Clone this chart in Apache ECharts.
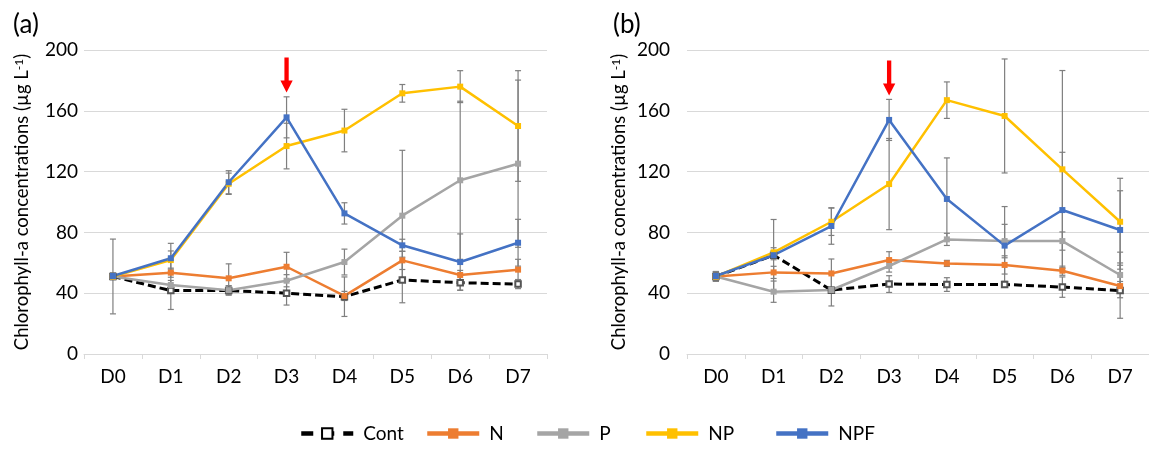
<!DOCTYPE html>
<html>
<head>
<meta charset="utf-8">
<script src="https://cdn.jsdelivr.net/npm/echarts@6/dist/echarts.min.js"></script>
<style>
  html, body { margin: 0; padding: 0; background: #fff; }
  #chart { width: 1149px; height: 449px; }
</style>
</head>
<body>
<div id="chart"></div>
<script>
// Sampling days
const days = ['D0', 'D1', 'D2', 'D3', 'D4', 'D5', 'D6', 'D7'];
const yTicks = { min: 0, max: 200, step: 40 };

// Panel (a): chlorophyll-a means (µg L-1)
const contA = [51, 41.7, 41.7, 40, 37.7, 48.7, 46.9, 46];
const nA    = [51, 53.5, 49.8, 57.4, 38.2, 61.6, 52, 55.5];
const pA    = [51, 45.4, 42, 48.2, 60.5, 91, 114.3, 125.2];
const npA   = [51, 61.8, 112, 136.8, 147, 171.5, 175.9, 150];
const npfA  = [51.3, 63, 113, 155.7, 92.5, 71.5, 60.5, 73.2];

// Panel (a): error bar half-widths
const contErrA = [24.6, 12.4, 3, 7.8, 13, 15, 5, 3];
const nErrA    = [2, 3, 9.5, 9.5, 3, 6, 3, 6.8];
const pErrA    = [2, 3, 3, 4, 8.5, 43, 52, 55];
const npErrA   = [2, 6, 7, 15, 14, 5.8, 10.5, 36.4];
const npfErrA  = [2, 9.8, 7.6, 13.5, 7, 4, 18.5, 15.4];

// Panel (b): chlorophyll-a means (µg L-1)
const contB = [51, 65, 42, 46, 45.7, 45.8, 44, 41.7];
const nB    = [51, 53.7, 53, 61.8, 59.6, 58.6, 54.8, 44.7];
const pB    = [51, 41, 42.1, 57.9, 75.4, 74.3, 74.3, 52];
const npB   = [51, 66.9, 87, 111.8, 167, 156.6, 121.5, 87];
const npfB  = [51.3, 65, 84.2, 154, 102, 71.3, 94.7, 81.6];

// Panel (b): error bar half-widths
const contErrB = [3, 23.5, 2, 5.5, 4.5, 2, 6.7, 18.2];
const nErrB    = [3, 4, 9.5, 5.5, 2, 6, 3, 3];
const pErrB    = [3, 7, 10.5, 4, 4, 11, 6, 15];
const npErrB   = [3, 3, 9, 30, 12, 37.5, 65, 28.6];
const npfErrB  = [3, 3, 12, 13.5, 27, 25.7, 38, 25.8];

// Level of the red marker arrow above D3 in each panel
const arrowDay = 'D3';
const arrowLevelA = 183.6;
const arrowLevelB = 181.6;

const FONT = 'Lato, "Open Sans", sans-serif';
const COLORS = { Cont: '#000000', N: '#ED7D31', P: '#A5A5A5', NP: '#FFC000', NPF: '#4472C4' };
const ARROW = 'path://M4,0 L8.3,0 L8.3,23 L12.3,23 L6.15,35 L0,23 L4,23 Z';

function lineSeries(name, data, gi) {
  const isCont = name === 'Cont';
  return {
    type: 'line', name, data,
    xAxisIndex: gi, yAxisIndex: gi,
    symbol: isCont ? 'emptyRect' : 'rect',
    symbolSize: isCont ? 5.5 : 6,
    z: 3,
    lineStyle: {
      color: COLORS[name],
      width: isCont ? 3 : 2.5,
      type: isCont ? [8, 4] : 'solid'
    },
    itemStyle: isCont
      ? { color: '#555555', borderWidth: 1 }
      : { color: COLORS[name], borderWidth: 0 }
  };
}

function errSeries(values, errs, gi) {
  return {
    type: 'custom',
    xAxisIndex: gi, yAxisIndex: gi,
    silent: true, z: 2,
    data: values.map((v, i) => [i, v - errs[i], v + errs[i]]),
    renderItem: (params, api) => {
      const lo = api.coord([api.value(0), api.value(1)]);
      const hi = api.coord([api.value(0), api.value(2)]);
      const cap = 3;
      const st = { stroke: '#7f7f7f', lineWidth: 1.2 };
      return {
        type: 'group',
        children: [
          { type: 'line', shape: { x1: lo[0], y1: lo[1], x2: hi[0], y2: hi[1] }, style: st },
          { type: 'line', shape: { x1: lo[0] - cap, y1: lo[1], x2: lo[0] + cap, y2: lo[1] }, style: st },
          { type: 'line', shape: { x1: hi[0] - cap, y1: hi[1], x2: hi[0] + cap, y2: hi[1] }, style: st }
        ]
      };
    }
  };
}

function arrowMark(level) {
  return {
    symbol: ARROW,
    symbolSize: [12.3, 35],
    silent: true,
    label: { show: false },
    itemStyle: { color: '#FF0000' },
    data: [{ coord: [arrowDay, level] }]
  };
}

function xAxis(gi) {
  return {
    type: 'category', gridIndex: gi, data: days,
    boundaryGap: true,
    axisLine: { lineStyle: { color: '#d9d9d9', width: 1 } },
    axisTick: { show: true, length: 5, lineStyle: { color: '#d9d9d9' } },
    axisLabel: { color: '#000', fontSize: 19, fontFamily: FONT, margin: 13 }
  };
}

function yAxis(gi, labelMargin, nameGap) {
  return {
    type: 'value', gridIndex: gi,
    min: yTicks.min, max: yTicks.max, interval: yTicks.step,
    axisLine: { show: false }, axisTick: { show: false },
    splitLine: { lineStyle: { color: '#d9d9d9', width: 1 } },
    axisLabel: { color: '#000', fontSize: 19, fontFamily: FONT, margin: labelMargin },
    name: 'Chlorophyll-a concentrations (µg L{sup|-1})',
    nameLocation: 'middle', nameRotate: 90, nameGap,
    nameTextStyle: {
      color: '#000', fontSize: 18.5, fontFamily: FONT,
      rich: { sup: { fontSize: 12, verticalAlign: 'top', color: '#000', fontFamily: FONT } }
    }
  };
}

const seriesNames = ['Cont', 'N', 'P', 'NP', 'NPF'];
const panelA = [contA, nA, pA, npA, npfA];
const panelAErr = [contErrA, nErrA, pErrA, npErrA, npfErrA];
const panelB = [contB, nB, pB, npB, npfB];
const panelBErr = [contErrB, nErrB, pErrB, npErrB, npfErrB];

const series = [];
[[panelA, panelAErr, arrowLevelA], [panelB, panelBErr, arrowLevelB]].forEach(([vals, errs, lvl], gi) => {
  vals.forEach((v, k) => series.push(errSeries(v, errs[k], gi)));
  vals.forEach((v, k) => {
    const s = lineSeries(seriesNames[k], v, gi);
    if (seriesNames[k] === 'NPF') s.markPoint = arrowMark(lvl);
    series.push(s);
  });
});

// One legend block per entry so each sits at its own spot
const legendLeft = { Cont: 294, N: 420, P: 530, NP: 639, NPF: 769 };
const legends = seriesNames.map(name => ({
  data: [{
    name,
    lineStyle: { width: 4.5, type: name === 'Cont' ? [12, 9] : 'solid' },
    itemStyle: name === 'Cont' ? { color: '#000' } : undefined
  }],
  left: legendLeft[name], top: 419,
  itemWidth: 52, itemHeight: 13,
  selectedMode: false,
  textStyle: { color: '#000', fontSize: 19, fontFamily: FONT, padding: [0, 0, 0, 5] }
}));

const chart = echarts.init(document.getElementById('chart'), null, { renderer: 'canvas' });
chart.setOption({
  animation: false,
  backgroundColor: '#fff',
  title: [
    { text: '(a)', left: 8, top: 7, textStyle: { fontSize: 26, fontWeight: 'normal', color: '#000', fontFamily: FONT } },
    { text: '(b)', left: 608, top: 7, textStyle: { fontSize: 26, fontWeight: 'normal', color: '#000', fontFamily: FONT } }
  ],
  grid: [
    { left: 84, top: 50, width: 463, height: 304 },
    { left: 687, top: 50, width: 466, height: 304 }
  ],
  xAxis: [xAxis(0), xAxis(1)],
  yAxis: [yAxis(0, 6, 52), yAxis(1, 17, 58)],
  legend: legends,
  series
});
</script>
</body>
</html>
